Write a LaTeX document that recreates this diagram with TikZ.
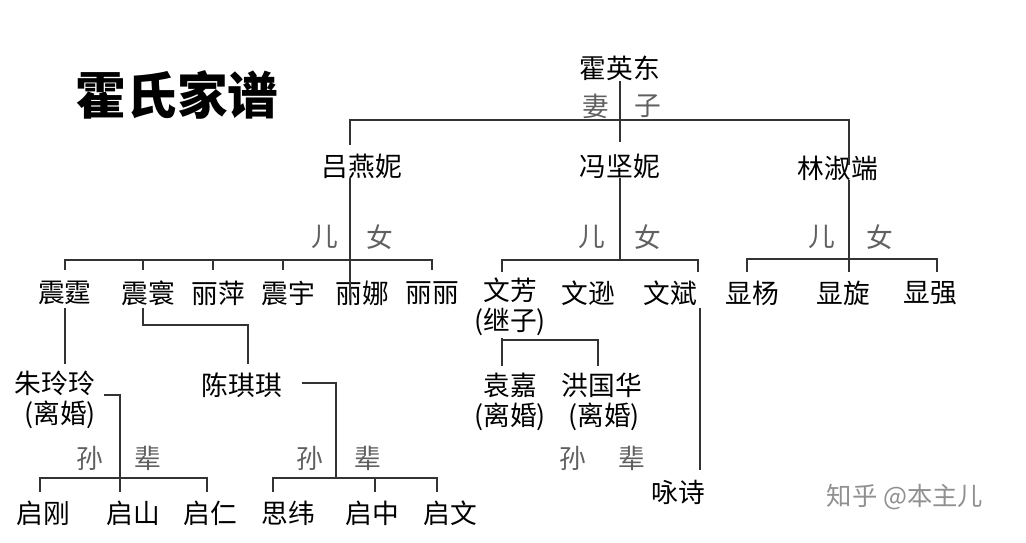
\documentclass[tikz,border=0pt]{standalone}
\usepackage{fontspec}
\setmainfont{Noto Sans CJK SC}
\usepackage{tikz}
\usetikzlibrary{positioning, calc}
\definecolor{lineGray}{HTML}{333333}
\definecolor{labelGray}{HTML}{606060}

\begin{document}
\begin{tikzpicture}[x=0.025cm,y=-0.025cm,
    person/.style={inner sep=0pt,font=\fontsize{19}{19}\selectfont},
    kin/.style={inner sep=0pt,text=labelGray,font=\fontsize{19}{19}\selectfont},
    link/.style={line width=1pt,lineGray}
]
    \useasboundingbox (0,0) rectangle (1026,542);
    % Title
    \node[inner sep=0pt,font=\fontsize{36}{36}\selectfont\bfseries] (title) at (177,95) {霍氏家谱};

    % Generation 1
    \node[person] (huo) at (620,68) {霍英东};
    \node[kin] (qi) at (596,106) {妻};
    \node[kin] (zi) at (648,106) {子};
    \node[person] (lv) at (362,166) {吕燕妮};
    \node[person] (feng) at (620,166) {冯坚妮};
    \node[person] (lin) at (838,168) {林淑端};
    \draw[link] (huo.south) -- (620,142);
    \draw[link] (350,145) -- (350,120) -- (849,120) -- (849,165);

    % Children of 吕燕妮
    \foreach \n/\x/\t in {zt/65/震霆, zh/148/震寰, lp/218/丽萍, zy/288/震宇, ln/362/丽娜, ll/432/丽丽}
        \node[person] (\n) at (\x,293) {\t};
    \node[kin] (er1) at (325,237) {儿};
    \node[kin] (nv1) at (380,237) {女};
    \draw[link] (350,178) -- (350,300);
    \draw[link] (65,270) -- (65,260) -- (432,260) -- (432,270);
    \foreach \x in {143,213,283} \draw[link] (\x,260) -- (\x,270);

    % Children of 冯坚妮
    \node[person] (wf) at (510,290) {文芳};
    \node[person] (wfnote) at (510,322) {(继子)};
    \node[person] (wx) at (588,293) {文逊};
    \node[person] (wb) at (670,293) {文斌};
    \node[kin] (er2) at (592,237) {儿};
    \node[kin] (nv2) at (648,237) {女};
    \draw[link] (620,178) -- (620,260);
    \draw[link] (502,272) -- (502,260) -- (698,260) -- (698,272);

    % Children of 林淑端
    \node[person] (xy) at (752,293) {显杨};
    \node[person] (xx) at (843,293) {显旋};
    \node[person] (xq) at (930,293) {显强};
    \node[kin] (er3) at (822,237) {儿};
    \node[kin] (nv3) at (880,237) {女};
    \draw[link] (849,180) -- (849,272);
    \draw[link] (747,272) -- (747,259) -- (937,259) -- (937,272);

    % Spouses
    \node[person] (zll) at (55,383) {朱玲玲};
    \node[person] (zllnote) at (60,415) {(离婚)};
    \node[person] (cqq) at (242,385) {陈琪琪};
    \node[person] (yj) at (510,385) {袁嘉};
    \node[person] (yjnote) at (510,417) {(离婚)};
    \node[person] (hgh) at (602,385) {洪国华};
    \node[person] (hghnote) at (604,417) {(离婚)};
    \draw[link] (65,308) -- (65,364);
    \draw[link] (143,308) -- (143,325) -- (248,325) -- (248,364);
    \draw[link] (502,338) -- (502,366);
    \draw[link] (502,340) -- (598,340) -- (598,366);

    % Grandchildren
    \foreach \n/\x/\t in {qg/43/启刚, qs/133/启山, qr/210/启仁, sw/288/思纬, qz/372/启中, qw/450/启文}
        \node[person] (\n) at (\x,513) {\t};
    \node[kin] (sun1) at (90,458) {孙};
    \node[kin] (bei1) at (148,458) {辈};
    \node[kin] (sun2) at (310,458) {孙};
    \node[kin] (bei2) at (368,458) {辈};
    \node[kin] (sun3) at (573,458) {孙};
    \node[kin] (bei3) at (632,458) {辈};
    \draw[link] (104,395) -- (120,395) -- (120,492);
    \draw[link] (40,492) -- (40,478) -- (207,478) -- (207,492);
    \draw[link] (302,383) -- (336,383) -- (336,478);
    \draw[link] (273,492) -- (273,478) -- (437,478) -- (437,492);
    \draw[link] (375,478) -- (375,492);
    \node[person] (ys) at (678,492) {咏诗};
    \draw[link] (700,308) -- (700,470);

    % Watermark
    \node[inner sep=0pt,text=labelGray!70,font=\fontsize{18}{18}\selectfont] (mark) at (905,497) {知乎 @本主儿};
\end{tikzpicture}
\end{document}
